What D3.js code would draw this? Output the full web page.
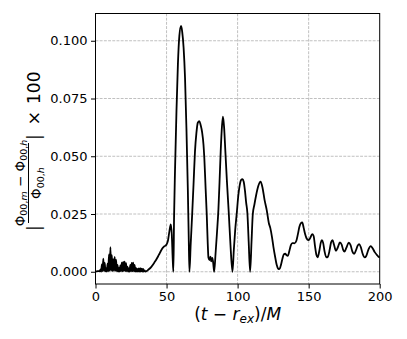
<!DOCTYPE html>
<html>
<head>
<meta charset="utf-8">
<script src="https://cdn.jsdelivr.net/npm/d3@7"></script>
<style>
  body { margin: 0; background: #fff; }
  svg { display: block; font-family: "DejaVu Sans", sans-serif; }
</style>
</head>
<body>
<div id="chart"></div>
<script>
// time axis (t - r_ex)/M
var timeM = [0, 1, 2, 3, 3.5, 4, 4.5, 5, 5.5, 6, 6.5, 7, 7.5, 8, 8.5, 9, 9.5, 10, 10.5, 11,
  11.5, 12, 12.5, 13, 13.5, 14, 14.5, 15, 15.5, 16, 16.5, 17, 17.5, 18, 18.5, 19, 19.5, 20,
  20.5, 21, 21.5, 22, 22.5, 23, 23.5, 24, 24.5, 25, 25.5, 26, 26.5, 27, 27.5, 28, 28.5, 29,
  29.5, 30, 30.5, 31, 31.5, 32, 32.5, 33, 33.5, 34, 34.5, 35, 36, 37, 38, 39, 40, 41, 42, 43,
  44, 45, 46, 47, 48, 49, 50, 51, 52, 53, 53.7, 54.3, 54.8, 55.3, 56, 57, 58, 59, 60.2, 61,
  62, 63, 64, 65, 65.6, 66.1, 67, 68, 69, 70, 71, 72, 73.1, 74, 75, 76, 76.6, 77.5, 78.3,
  79, 79.5, 80.3, 80.9, 81.5, 82.2, 82.8, 83.5, 84.5, 85.5, 86.5, 87.3, 88.1, 89, 89.7, 90.5,
  91.4, 92.5, 93.8, 95, 96.4, 97.3, 98.3, 99.4, 100.5, 101.5, 102.5, 103.4, 104.3, 105.2,
  106, 106.9, 107.8, 108.8, 109.8, 110.7, 111.8, 113, 114.5, 116.2, 117.5, 119, 120.5, 122,
  123, 124.2, 125.2, 126.4, 127.5, 128.5, 129.4, 130.3, 131.5, 132.5, 133.5, 134.5, 135.3,
  136.5, 137.5, 138.5, 140, 141.3, 142.5, 143.5, 144.5, 145.5, 146.5, 147.5, 148.5, 149.8,
  151, 152.5, 153.5, 154.5, 155.5, 156.3, 157.5, 158.5, 159.3, 160.2, 161.2, 162.5, 163.5,
  164.8, 165.8, 166.8, 167.8, 169.2, 170.5, 172, 173.2, 174.3, 175.2, 176.5, 178.2, 179.5,
  180.8, 182, 183.3, 184.5, 185.6, 186.8, 188, 189.5, 190.5, 192, 193.7, 195, 196.5, 198,
  199, 200];

// |Phi_m - Phi_h| / Phi_h * 100
var relDiff = [0.0002, 0.0002, 0.0003, 0.0002, 0.001, 0.0001, 0.0032, 0.0003, 0.0057, 0.0003,
  0.0038, 0.0002, 0.0016, 0.0001, 0.0035, 0.0002, 0.0075, 0.0004, 0.0106, 0.0004, 0.0072,
  0.0003, 0.0055, 0.0004, 0.0064, 0.0004, 0.0052, 0.0002, 0.003, 0.0001, 0.0017, 0.0001,
  0.0028, 0.0002, 0.0039, 0.0002, 0.0043, 0.0003, 0.0044, 0.0003, 0.0037, 0.0002, 0.0022,
  0.0001, 0.0016, 0.0001, 0.003, 0.0002, 0.0038, 0.0002, 0.0039, 0.0002, 0.003, 0.0001,
  0.0017, 0.0001, 0.0012, 0.0001, 0.0015, 0.0001, 0.0016, 0.0001, 0.0013, 0.0001, 0.0012,
  0.0001, 0.0006, 0.0001, 0.0003, 0.0008, 0.0013, 0.0019, 0.0027, 0.0036, 0.0045, 0.0055,
  0.0066, 0.0078, 0.009, 0.0101, 0.0108, 0.0112, 0.0118, 0.0135, 0.0175, 0.0205, 0.016,
  0.006, 0, 0.024, 0.045, 0.07, 0.09, 0.102, 0.1064, 0.104, 0.097, 0.084, 0.062, 0.035,
  0.015, 0, 0.012, 0.0245, 0.038, 0.052, 0.06, 0.0645, 0.0652, 0.0635, 0.0605, 0.055, 0.049,
  0.036, 0.0245, 0.012, 0.006, 0.005, 0.0065, 0.0045, 0.006, 0.004, 0, 0.008, 0.017, 0.027,
  0.039, 0.052, 0.063, 0.0671, 0.0625, 0.052, 0.039, 0.0253, 0.0115, 0, 0.009, 0.018, 0.0253,
  0.033, 0.0375, 0.0398, 0.0401, 0.039, 0.035, 0.03, 0.0253, 0.013, 0, 0.013, 0.025, 0.029,
  0.033, 0.037, 0.039, 0.0365, 0.031, 0.0267, 0.021, 0.019, 0.015, 0.0108, 0.0065, 0.003,
  0.0014, 0.0011, 0.0025, 0.0055, 0.0075, 0.0078, 0.0071, 0.0069, 0.0092, 0.0115, 0.0124,
  0.0123, 0.0133, 0.0165, 0.0195, 0.021, 0.0214, 0.019, 0.0163, 0.0145, 0.0137, 0.0145,
  0.0163, 0.0155, 0.011, 0.0072, 0.0062, 0.009, 0.0125, 0.0137, 0.0125, 0.0088, 0.0062,
  0.0065, 0.0095, 0.0128, 0.0137, 0.0118, 0.0091, 0.0105, 0.0127, 0.0118, 0.0095, 0.0087,
  0.0103, 0.0126, 0.0115, 0.0087, 0.0077, 0.0093, 0.0113, 0.012, 0.0105, 0.0078, 0.0062,
  0.0068, 0.0095, 0.0111, 0.0102, 0.0085, 0.0073, 0.0066, 0.0062];

var xTicks = [0, 50, 100, 150, 200];
var yTicks = [0, 0.025, 0.05, 0.075, 0.1];
var yTickLabels = ["0.000", "0.025", "0.050", "0.075", "0.100"];

var width = 407;
var height = 339;
var plotLeft = 95.5, plotRight = 379.7, plotTop = 13.5, plotBottom = 284;

var svg = d3.select("#chart")
  .append("svg")
  .attr("width", width)
  .attr("height", height);

var xScale = d3.scaleLinear()
  .domain([0, 200])
  .range([plotLeft, plotRight]);

var yScale = d3.scaleLinear()
  .domain([-0.0053, 0.1118])
  .range([plotBottom, plotTop]);

// grid lines
var grid = svg.append("g")
  .attr("stroke", "#b0b0b0")
  .attr("stroke-width", 0.8)
  .attr("stroke-dasharray", "2.9,1.3");

grid.selectAll("line.gx")
  .data(xTicks.slice(1, -1))
  .enter()
  .append("line")
  .attr("x1", function(d) { return xScale(d); })
  .attr("x2", function(d) { return xScale(d); })
  .attr("y1", plotTop)
  .attr("y2", plotBottom);

grid.selectAll("line.gy")
  .data(yTicks)
  .enter()
  .append("line")
  .attr("x1", plotLeft)
  .attr("x2", plotRight)
  .attr("y1", function(d) { return yScale(d); })
  .attr("y2", function(d) { return yScale(d); });

// the curve
var points = timeM.map(function(t, i) { return [t, relDiff[i]]; });

var line = d3.line()
  .x(function(d) { return xScale(d[0]); })
  .y(function(d) { return yScale(d[1]); })
  .curve(d3.curveMonotoneX);

svg.append("path")
  .datum(points)
  .attr("d", line)
  .attr("fill", "none")
  .attr("stroke", "#000")
  .attr("stroke-width", 1.8)
  .attr("stroke-linejoin", "round");

// frame
svg.append("rect")
  .attr("x", plotLeft)
  .attr("y", plotTop)
  .attr("width", plotRight - plotLeft)
  .attr("height", plotBottom - plotTop)
  .attr("fill", "none")
  .attr("stroke", "#000")
  .attr("stroke-width", 1);

// axes
var xAxis = svg.append("g")
  .attr("transform", "translate(0," + plotBottom + ")")
  .call(d3.axisBottom(xScale).tickValues(xTicks).tickFormat(d3.format("d"))
    .tickSize(4.5).tickPadding(3.5));

var yAxis = svg.append("g")
  .attr("transform", "translate(" + plotLeft + ",0)")
  .call(d3.axisLeft(yScale).tickValues(yTicks)
    .tickFormat(function(d, i) { return yTickLabels[i]; })
    .tickSize(4.5).tickPadding(3.5));

[xAxis, yAxis].forEach(function(ax) {
  ax.select(".domain").remove();
  ax.selectAll("line").attr("stroke", "#000").attr("stroke-width", 1);
  ax.selectAll("text")
    .attr("fill", "#000")
    .attr("font-size", "13px")
    .attr("font-family", "DejaVu Sans");
});

// x label: (t - r_ex)/M
var xl = svg.append("text")
  .attr("x", (plotLeft + plotRight) / 2)
  .attr("y", 320)
  .attr("text-anchor", "middle")
  .attr("font-size", "17px")
  .attr("fill", "#000");
xl.append("tspan").text("(");
xl.append("tspan").attr("font-style", "italic").text("t");
xl.append("tspan").text(" \u2212 ");
xl.append("tspan").attr("font-style", "italic").text("r");
xl.append("tspan").attr("font-style", "italic").attr("font-size", "12px").attr("dy", 3).text("ex");
xl.append("tspan").attr("dy", -3).text(")/");
xl.append("tspan").attr("font-style", "italic").text("M");

// y label, rotated: local x = -screen y, local y = screen x
var yl = svg.append("g").attr("transform", "rotate(-90)").attr("fill", "#000");

yl.append("text").attr("x", -231).attr("y", 39.5).attr("font-size", "17px").text("|");

yl.append("line")
  .attr("x1", -223).attr("x2", -143)
  .attr("y1", 28.5).attr("y2", 28.5)
  .attr("stroke", "#000").attr("stroke-width", 1);

var num = yl.append("text")
  .attr("x", -183).attr("y", 24.5)
  .attr("text-anchor", "middle")
  .attr("font-size", "13.5px");
num.append("tspan").text("\u03a6");
num.append("tspan").attr("font-size", "9.5px").attr("dy", 2.5).text("00,");
num.append("tspan").attr("font-size", "9.5px").attr("font-style", "italic").text("m");
num.append("tspan").attr("dy", -2.5).text(" \u2212 \u03a6");
num.append("tspan").attr("font-size", "9.5px").attr("dy", 2.5).text("00,");
num.append("tspan").attr("font-size", "9.5px").attr("font-style", "italic").text("h");

var den = yl.append("text")
  .attr("x", -183).attr("y", 41)
  .attr("text-anchor", "middle")
  .attr("font-size", "13.5px");
den.append("tspan").text("\u03a6");
den.append("tspan").attr("font-size", "9.5px").attr("dy", 2.5).text("00,");
den.append("tspan").attr("font-size", "9.5px").attr("font-style", "italic").text("h");

yl.append("text").attr("x", -140).attr("y", 39.5).attr("font-size", "17px").text("|");
yl.append("text").attr("x", -118).attr("y", 39.5).attr("text-anchor", "middle")
  .attr("font-size", "17px").text("\u00d7");
yl.append("text").attr("x", -71.5).attr("y", 39.5).attr("text-anchor", "end")
  .attr("font-size", "17px").text("100");
</script>
</body>
</html>
